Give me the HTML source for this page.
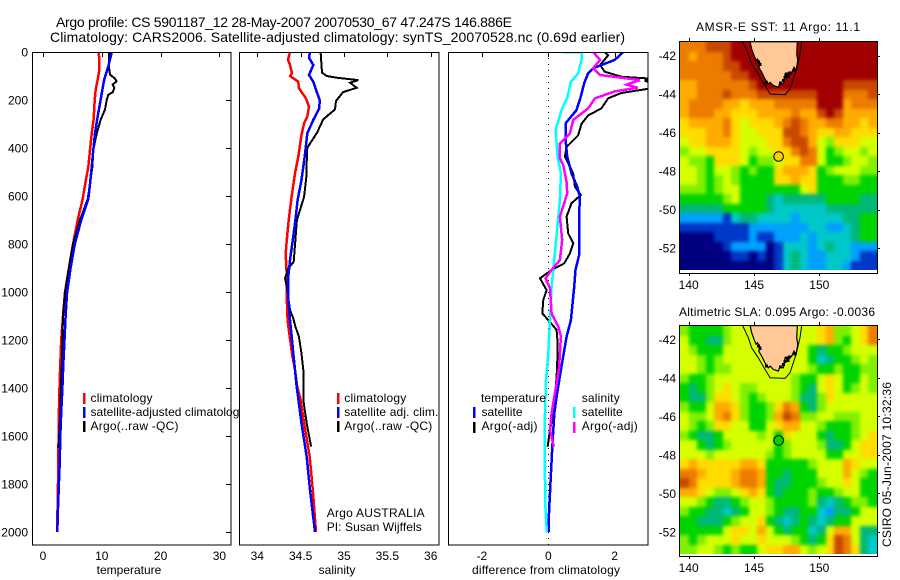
<!DOCTYPE html>
<html lang="en">
<head>
<meta charset="utf-8">
<title>Argo profile 5901187_12</title>
<style>
html,body{margin:0;padding:0;background:#fff;}
svg{display:block;}
text{font-family:"Liberation Sans",sans-serif;font-size:12px;fill:#000;}
</style>
</head>
<body>
<svg id="chart" xmlns="http://www.w3.org/2000/svg" width="900" height="580" viewBox="0 0 900 580">
<defs>
<clipPath id="clip-temp"><rect x="32" y="52" width="199" height="493"/></clipPath>
<clipPath id="clip-sal"><rect x="240" y="52" width="199" height="493"/></clipPath>
<clipPath id="clip-diff"><rect x="449" y="52" width="199" height="493"/></clipPath>
<clipPath id="clip-map-sst"><rect x="680" y="42" width="197" height="231"/></clipPath>
<clipPath id="clip-map-sla"><rect x="680" y="326" width="197" height="230"/></clipPath>
<clipPath id="clip-field-sst"><rect x="680" y="42" width="197" height="228"/></clipPath>
<clipPath id="clip-field-sla"><rect x="680" y="326" width="197" height="228"/></clipPath>
<filter id="field-smooth" filterUnits="userSpaceOnUse" x="640" y="0" width="260" height="580" color-interpolation-filters="sRGB"><feGaussianBlur stdDeviation="1.8"/></filter>
</defs>

<text x="56" y="27" font-size="14" style="font-size:14px" textLength="456" lengthAdjust="spacing">Argo profile: CS 5901187_12 28-May-2007 20070530_67 47.247S 146.886E</text>
<text x="50" y="42" style="font-size:14px" textLength="575" lengthAdjust="spacing">Climatology: CARS2006. Satellite-adjusted climatology: synTS_20070528.nc (0.69d earlier)</text>

<g id="panel-temp">
<rect x="32" y="52" width="199" height="493" fill="#fff"/>
<g id="marks-temp" clip-path="url(#clip-temp)"></g>
<rect x="83" y="393" width="2.5" height="11" fill="#f00"/>
<text x="90.5" y="402" textLength="62" lengthAdjust="spacing">climatology</text>
<rect x="83" y="407" width="2.5" height="11" fill="#00f"/>
<text x="90.5" y="416" textLength="155" lengthAdjust="spacing">satellite-adjusted climatology</text>
<rect x="83" y="421" width="2.5" height="11" fill="#000"/>
<text x="90.5" y="430" textLength="88" lengthAdjust="spacing">Argo(..raw -QC)</text>
<rect x="32.5" y="52.5" width="198.5" height="492.5" fill="none" stroke="#000" stroke-width="1" shape-rendering="crispEdges"/>
<g id="ticks-temp"></g>
<text x="129" y="574" text-anchor="middle">temperature</text>
</g>

<g id="panel-sal">
<rect x="239.5" y="52" width="199.5" height="493" fill="#fff"/>
<g id="marks-sal" clip-path="url(#clip-sal)"></g>
<rect x="337" y="393" width="2.5" height="11" fill="#f00"/>
<text x="344.3" y="402" textLength="62" lengthAdjust="spacing">climatology</text>
<rect x="337" y="407" width="2.5" height="11" fill="#00f"/>
<text x="344.3" y="416" textLength="94" lengthAdjust="spacing">satellite adj. clim.</text>
<rect x="337" y="421" width="2.5" height="11" fill="#000"/>
<text x="344.3" y="430" textLength="88" lengthAdjust="spacing">Argo(..raw -QC)</text>
<text x="326.7" y="517" textLength="98" lengthAdjust="spacing">Argo AUSTRALIA</text>
<text x="326.7" y="531" textLength="95" lengthAdjust="spacing">PI: Susan Wijffels</text>
<rect x="239.5" y="52.5" width="199.5" height="492.5" fill="none" stroke="#000" stroke-width="1" shape-rendering="crispEdges"/>
<g id="ticks-sal"></g>
<text x="337" y="574" text-anchor="middle">salinity</text>
</g>

<g id="panel-diff">
<rect x="448.5" y="52" width="199.5" height="493" fill="#fff"/>
<g id="marks-diff" clip-path="url(#clip-diff)"></g>
<text x="481" y="402" textLength="65" lengthAdjust="spacing">temperature</text>
<rect x="473" y="407" width="2.5" height="11" fill="#00f"/>
<text x="481.5" y="416" textLength="41" lengthAdjust="spacing">satellite</text>
<rect x="473" y="422" width="2.5" height="11" fill="#000"/>
<text x="481.5" y="430" textLength="56" lengthAdjust="spacing">Argo(-adj)</text>
<text x="581.7" y="402" textLength="38" lengthAdjust="spacing">salinity</text>
<rect x="573" y="407" width="2.5" height="11" fill="#0ff"/>
<text x="581.7" y="416" textLength="41" lengthAdjust="spacing">satellite</text>
<rect x="573" y="422" width="2.5" height="11" fill="#f0f"/>
<text x="581.7" y="430" textLength="56" lengthAdjust="spacing">Argo(-adj)</text>
<rect x="448.5" y="52.5" width="199.5" height="492.5" fill="none" stroke="#000" stroke-width="1" shape-rendering="crispEdges"/>
<g id="ticks-diff"></g>
<text x="546" y="574" text-anchor="middle" textLength="148" lengthAdjust="spacing">difference from climatology</text>
</g>

<g id="panel-map-sst">
<text x="696" y="31" textLength="164" lengthAdjust="spacing">AMSR-E SST: 11 Argo: 11.1</text>
<g clip-path="url(#clip-field-sst)"><g id="cells-sst" filter="url(#field-smooth)" shape-rendering="crispEdges"></g></g>
<g id="geo-sst" clip-path="url(#clip-map-sst)"></g>
<rect x="679.5" y="41.5" width="198" height="232" fill="none" stroke="#000" stroke-width="1" shape-rendering="crispEdges"/>
<g id="ticks-map-sst"></g>
</g>

<g id="panel-map-sla">
<text x="679" y="316" textLength="196" lengthAdjust="spacing">Altimetric SLA: 0.095 Argo: -0.0036</text>
<g clip-path="url(#clip-field-sla)"><g id="cells-sla" filter="url(#field-smooth)" shape-rendering="crispEdges"></g></g>
<g id="geo-sla" clip-path="url(#clip-map-sla)"></g>
<rect x="679.5" y="325.5" width="198" height="231" fill="none" stroke="#000" stroke-width="1" shape-rendering="crispEdges"/>
<g id="ticks-map-sla"></g>
</g>

<text transform="translate(891,547) rotate(-90)" textLength="165" lengthAdjust="spacing">CSIRO 05-Jun-2007 10:32:36</text>
</svg>

<script>
// ---------- axis tick labels ----------
const depthTicks = [0,200,400,600,800,1000,1200,1400,1600,1800,2000];
const tempTicks = [0,10,20,30];
const salTicks = [34,34.5,35,35.5,36];
const diffTicks = [-2,0,2];
const lonTicks = [140,145,150];
const latTicks = [-42,-44,-46,-48,-50,-52];

// ---------- temperature panel ----------
const tempClimDepth = [0,74,115,157,200,283,340,408,480,533,612,700,800,900,1000,1100,1200,1300,1400,1500,1600,1800,2000];
const tempClimValue = [9.5,9.6,9.3,8.96,8.8,8.6,8.28,8,7.7,7.3,6.75,5.9,5.1,4.4,3.75,3.4,3.1,2.95,2.8,2.7,2.65,2.55,2.4];
const tempSatDepth = [0,60,115,157,200,268,338,408,480,550,612,700,800,900,1000,1100,1200,1300,1400,1500,1600,1700,1800,1900,2000];
const tempSatValue = [11.7,11.1,10.4,10.1,9.8,9.3,8.84,8.55,8.28,8,7.7,6.5,5.4,4.7,4.1,3.85,3.65,3.45,3.3,3.1,2.95,2.85,2.7,2.55,2.44];
const tempArgoDepth = [0,60,94,111,122,136,150,168,178,200,240,283,340,408,480,550,612,700,800,900,1000,1100,1200,1300,1400,1500,1650];
const tempArgoValue = [11.2,11.2,11.4,12.24,12.5,11.85,12.13,11.85,11.1,10.83,10.54,9.8,9.13,8.55,8.4,8,7.6,6.3,5.1,4.4,3.75,3.4,3.3,3.2,3.05,2.95,2.65];

// ---------- salinity panel ----------
const salClimDepth = [0,33,54,89,100,124,151,193,228,269,297,346,436,506,603,700,783,839,936,1026,1117,1186,1256,1325,1394,1450,1547,1686,1825,2000];
const salClimValue = [34.377,34.354,34.377,34.40,34.38,34.473,34.48,34.56,34.596,34.577,34.54,34.51,34.473,34.435,34.396,34.362,34.34,34.328,34.34,34.34,34.35,34.374,34.40,34.435,34.46,34.5,34.54,34.604,34.64,34.677];
const salSatDepth = [0,24,54,96,124,158,200,235,283,339,436,533,617,700,783,867,936,1026,1117,1186,1256,1394,1547,1686,1825,2000];
const salSatValue = [34.608,34.596,34.646,34.596,34.646,34.677,34.72,34.715,34.646,34.577,34.547,34.51,34.465,34.44,34.41,34.377,34.358,34.358,34.377,34.397,34.415,34.454,34.51,34.57,34.608,34.665];
const salArgoDepth = [0,86,100,107,117,128,149,167,204,239,281,336,399,461,506,603,700,783,874,901,943,978,1075,1110,1144,1186,1256,1325,1450,1547,1644];
const salArgoValue = [34.73,34.746,34.8,34.916,35.165,35.07,35.146,34.99,34.908,34.896,34.76,34.69,34.577,34.57,34.57,34.54,34.457,34.44,34.42,34.358,34.32,34.34,34.377,34.415,34.44,34.48,34.51,34.53,34.53,34.57,34.62];

// ---------- difference panel ----------
const diffTempSatDepth = [0,33,68,89,130,186,242,297,367,436,506,561,603,686,839,908,978,1117,1186,1325,1436,1506,1645,1784,1922,2000];
const diffTempSatValue = [2.26,2.0,1.35,1.2,1.08,0.98,0.85,0.52,0.52,0.57,0.70,0.87,0.95,0.93,0.94,0.82,0.78,0.68,0.55,0.38,0.25,0.18,0.12,0.07,0.02,0.01];
const diffSalSatDepth = [0,2,33,89,124,186,242,325,436,506,617,686,839,978,1117,1256,1367,1506,1645,1784,1922,2000];
const diffSalSatValue = [0.45,1.0,1.0,0.9,0.68,0.58,0.40,0.22,0.28,0.38,0.35,0.30,0.20,0.10,0.05,0,-0.07,-0.10,-0.11,-0.10,-0.08,-0.04];
const diffTempArgoDepth = [0,14,54,82,103,112,120,131,149,171,193,235,264,299,347,396,436,506,561,596,630,686,756,797,839,881,908,943,992,1033,1089,1117,1158,1193,1256,1353,1436,1506,1575,1645];
const diffTempArgoValue = [1.69,1.8,1.56,1.7,2.2,3.2,2.9,3.2,3.2,2.2,1.8,1.6,1.2,1.0,0.9,0.55,0.5,0.75,0.8,0.98,0.7,0.55,0.6,0.75,0.65,0.48,0.1,-0.25,-0.05,-0.15,-0.18,0,0.25,0.27,0.28,0.25,0.2,0.15,0.05,-0.02];
const diffSalArgoDepth = [0,33,68,96,107,117,136,149,164,193,235,283,339,381,443,471,542,590,686,783,867,908,943,985,1089,1144,1186,1325,1436,1506,1575,1645];
const diffSalArgoValue = [1.35,1.56,1.35,1.56,2.2,2.76,2.36,2.69,2.0,1.41,1.2,0.75,0.65,0.35,0.35,0.45,0.55,0.57,0.35,0.42,0.35,0.10,-0.08,0.05,0.1,0.3,0.38,0.32,0.18,0.1,0.05,0.17];

// ---------- map fields: colour-scale steps 0 (navy) .. 12 (dark red) ----------
const sstGrid = [
[10,10,10,11,11,11,12,12,12,12,12,12,12,12,12,12,12,12,12,12,12,12,12],
[10,9,10,10,10,11,12,12,12,12,12,12,12,12,12,12,12,12,12,12,12,12,12],
[10,10,10,10,10,11,11,12,12,12,12,12,12,12,12,12,12,12,12,12,12,12,12],
[10,10,10,10,10,10,11,11,12,12,12,12,12,12,12,12,12,12,12,12,12,12,12],
[9,9,10,10,10,10,10,10,11,12,12,12,12,12,12,12,12,12,12,11,11,11,11],
[9,9,10,10,10,11,10,10,10,11,11,11,11,11,11,11,12,12,12,10,10,10,11],
[9,10,10,10,10,9,9,8,9,9,9,10,10,10,10,10,12,12,12,9,10,10,10],
[9,10,10,10,9,9,8,8,8,9,9,9,9,10,9,9,11,12,11,9,9,9,9],
[8,9,9,9,9,10,8,7,8,8,8,9,10,11,10,9,9,10,10,9,9,8,9],
[8,8,8,9,9,10,8,7,7,8,8,8,11,11,10,9,8,8,9,9,8,8,8],
[7,8,8,9,9,9,8,7,7,7,8,8,10,11,11,9,7,6,8,8,8,7,7],
[6,7,7,8,8,8,8,7,6,7,7,8,8,10,11,10,7,5,6,7,7,6,7],
[7,6,6,5,8,8,8,7,5,6,6,7,8,8,10,10,7,5,5,6,7,7,6],
[7,7,6,5,7,7,6,5,6,5,5,8,9,9,9,8,5,6,7,7,7,6,6],
[7,7,6,5,6,7,6,5,5,5,5,8,8,9,8,8,5,5,5,6,6,5,5],
[6,6,6,5,6,7,7,5,5,5,5,5,5,5,7,8,5,5,5,5,5,5,5],
[5,5,5,5,5,6,7,5,5,5,4,3,4,4,4,4,4,5,5,5,5,4,4],
[4,4,4,4,4,5,5,5,5,5,4,3,3,3,3,3,3,4,4,4,4,4,4],
[2,2,2,2,2,1,3,4,4,3,3,3,3,2,3,3,3,3,3,4,4,5,5],
[1,1,1,1,1,1,1,1,2,2,2,2,2,2,2,3,3,2,2,3,4,5,5],
[0,0,0,0,1,1,1,1,2,1,1,2,2,2,3,2,3,3,3,3,4,5,5],
[0,0,0,0,0,1,2,2,2,2,0,1,3,3,3,2,3,4,3,3,2,2,2],
[0,0,0,0,0,0,1,1,0,1,0,1,3,4,3,2,2,3,3,3,2,1,1],
[0,0,0,0,0,0,0,0,0,0,0,1,3,4,3,2,2,3,3,2,1,1,1]
];
const slaGrid = [
[6,5,5,5,5,6,7,7,7,7,7,7,7,7,7,7,8,9,6,6,7,8,10],
[7,5,5,4,4,6,7,7,7,7,7,7,7,7,7,7,8,9,6,5,7,8,10],
[7,6,5,5,5,7,7,7,7,7,7,7,7,7,7,5,4,5,5,6,7,7,7],
[7,7,6,5,6,7,7,7,7,7,7,7,7,7,7,5,3,4,5,5,6,7,6],
[7,7,6,5,6,6,7,7,7,7,7,7,7,7,7,6,5,5,6,5,5,6,6],
[6,5,5,6,7,7,7,7,7,7,7,7,7,6,5,5,7,8,7,5,5,7,6],
[5,4,5,6,7,8,7,6,6,7,7,7,7,6,5,4,7,8,7,5,6,7,6],
[5,4,4,6,8,8,7,6,5,6,7,7,7,6,4,4,6,8,7,7,7,7,7],
[6,5,5,7,9,9,8,6,5,5,6,8,10,9,5,4,6,7,7,7,7,7,7],
[7,6,6,7,9,10,8,6,5,5,6,9,11,10,6,6,7,7,6,6,6,7,7],
[7,6,5,6,8,8,7,7,5,5,7,8,9,9,7,7,6,5,5,5,6,7,7],
[6,5,4,4,5,7,7,7,7,6,7,5,8,7,7,7,5,4,5,5,6,7,8],
[7,7,5,4,5,6,7,7,7,7,7,5,6,7,7,7,6,4,4,5,7,8,8],
[7,7,7,6,7,7,7,7,7,7,6,5,6,7,7,7,7,5,5,7,7,8,8],
[8,9,8,8,8,8,8,9,9,8,5,5,5,5,5,6,7,7,7,9,8,7,7],
[10,10,9,8,8,8,9,10,10,9,5,5,4,5,5,5,7,7,7,9,7,6,5],
[11,10,8,8,8,8,9,10,10,9,5,4,4,5,5,5,6,7,7,8,7,5,5],
[9,9,8,7,6,6,7,8,9,8,5,4,5,5,5,6,5,5,6,7,7,5,5],
[7,7,6,5,4,4,5,6,7,7,6,5,5,5,5,6,4,3,4,5,6,6,5],
[6,5,5,4,4,3,4,5,7,7,6,5,4,4,5,5,3,2,4,4,5,7,7],
[5,5,4,4,4,5,6,7,7,8,5,4,3,4,5,4,3,4,5,5,7,7,7],
[5,5,5,5,5,7,8,8,7,9,7,5,4,5,5,3,4,7,9,9,7,4,4],
[6,5,6,7,7,7,8,7,7,8,7,7,7,6,5,4,5,8,11,10,7,4,3],
[6,6,7,7,6,5,6,5,5,7,8,8,9,9,7,6,7,8,11,10,8,4,3]
];

// ---------- geography (lon / lat) ----------
const coastLon = [144.70,144.82,145.00,145.16,145.26,145.51,145.36,145.59,145.84,146.10,146.23,146.48,146.87,146.99,147.25,147.38,147.63,147.89,148.06,148.22,148.35,148.27,148.32];
const coastLat = [-41.29,-41.65,-42.00,-42.26,-42.18,-42.44,-42.61,-42.87,-43.22,-43.48,-43.39,-43.56,-43.65,-43.39,-43.48,-42.96,-43.04,-42.87,-42.61,-42.78,-42.26,-41.92,-41.29];
const contourLon = [144.13,144.57,144.82,145.33,145.84,146.23,147.38,147.76,148.22,148.52,148.65];
const contourLat = [-41.29,-41.92,-42.44,-42.96,-43.56,-44.0,-44.03,-43.74,-42.78,-41.92,-41.29];
const islandLon = [145.33,145.46,147.50,147.71,147.25,147.04,145.97,148.14,147.38,147.60];
const islandLat = [-42.35,-42.47,-42.96,-42.92,-43.30,-43.44,-43.39,-42.75,-43.15,-43.10];
const argoLon = [146.886];
const argoLat = [-47.247];
const argoSstStep = [8.3];
const argoSlaStep = [5];

// ---------- axis functions ----------
const SVGNS = 'http://www.w3.org/2000/svg';
const yDepth = d => 52 + d * 0.24;
const xTemp = v => 43 + v * 5.88;
const xSal = v => 257.3 + (v - 34) * 86.7;
const xDiff = v => 548.3 + v * 33.2;
const xLon = v => 688.7 + (v - 140) * 13.06;
const ySst = v => 55.5 + (-42 - v) * 19.25;
const ySla = v => 339.3 + (-42 - v) * 19.27;

const palette = ['#000080','#0038c8','#00a0ff','#00c8c8','#00b878','#00d400','#80f000','#d4ff00','#ffdc00','#ffac00','#ec7c00','#c84800','#a00000'];
function colorOf(step){
  const s = Math.max(0, Math.min(12, step));
  const lo = Math.floor(s), hi = Math.min(12, lo + 1), t = s - lo;
  const c = h => [1,3,5].map(i => parseInt(h.substr(i,2),16));
  const a = c(palette[lo]), b = c(palette[hi]);
  return 'rgb(' + a.map((q,i) => Math.round(q + (b[i]-q)*t)).join(',') + ')';
}
function mk(tag, parent, attrs){
  const el = document.createElementNS(SVGNS, tag);
  for (const k in attrs) el.setAttribute(k, attrs[k]);
  parent.appendChild(el);
  return el;
}
function byId(id){ return document.getElementById(id); }

function drawProfile(group, depths, values, xScale, color, width, name){
  const pts = depths.map((d,i) => xScale(values[i]).toFixed(1) + ',' + yDepth(d).toFixed(1)).join(' ');
  const el = mk('polyline', group, {points: pts, fill: 'none', stroke: color, 'stroke-width': width, 'stroke-linejoin': 'miter', 'shape-rendering': 'crispEdges'});
  
  
}
function drawTopTicks(group, ticks, xScale, name){
  ticks.forEach(v => {
    const x = Math.round(xScale(v)) + 0.5;
    const tick = mk('line', group, {x1: x, x2: x, y1: 52, y2: 57, stroke: '#000', 'shape-rendering': 'crispEdges'});
    
    
    const label = mk('text', group, {x: xScale(v), y: 560, 'text-anchor': 'middle'});
    label.textContent = String(v);
    
    
  });
}
function drawMapAxes(group, scaleY, top, bottom, name){
  lonTicks.forEach(v => {
    const x = Math.round(xLon(v)) + 0.5;
    const t1 = mk('line', group, {x1: x, x2: x, y1: top - 3, y2: top, stroke: '#000', 'shape-rendering': 'crispEdges'});
    
    
    const t2 = mk('line', group, {x1: x, x2: x, y1: bottom, y2: bottom + 3, stroke: '#000', 'shape-rendering': 'crispEdges'});
    
    
    const label = mk('text', group, {x: xLon(v), y: bottom + 16, 'text-anchor': 'middle'});
    label.textContent = String(v);
    
    
  });
  latTicks.forEach(v => {
    const y = Math.round(scaleY(v)) + 0.5;
    const t = mk('line', group, {x1: 877, x2: 880, y1: y, y2: y, stroke: '#000', 'shape-rendering': 'crispEdges'});
    
    
    const label = mk('text', group, {x: 676, y: scaleY(v) + 4.5, 'text-anchor': 'end'});
    label.textContent = String(v);
    
    
  });
}
function drawCells(group, grid, left, top, cellW, cellH, name){
  const pad = 12; // outer cells run past the clip so the smoothing keeps full colour at the edge
  grid.forEach((row, r) => {
    row.forEach((v, c) => {
      let x0 = Math.round(left + c * cellW), x1 = Math.round(left + (c + 1) * cellW);
      let y0 = Math.round(top + r * cellH), y1 = Math.round(top + (r + 1) * cellH);
      if (c === 0) x0 -= pad;
      if (c === row.length - 1) x1 += pad;
      if (r === 0) y0 -= pad;
      if (r === grid.length - 1) y1 += pad;
      const cell = mk('rect', group, {x: x0, y: y0, width: x1 - x0, height: y1 - y0, fill: colorOf(v)});
      
      
    });
  });
}
function drawGeo(group, scaleY, markerStep, name){
  const landPts = coastLon.map((v,i) => xLon(v).toFixed(1) + ',' + scaleY(coastLat[i]).toFixed(1)).join(' ');
  const land = mk('polygon', group, {points: landPts, fill: '#ffc896', stroke: '#000', 'stroke-width': 1.2});
  
  
  islandLon.forEach((v,i) => {
    const isle = mk('rect', group, {x: xLon(v) - 1.5, y: scaleY(islandLat[i]) - 1.5, width: 3, height: 3, fill: '#000', 'shape-rendering': 'crispEdges'});
    
    
  });
  const contourPts = contourLon.map((v,i) => xLon(v).toFixed(1) + ',' + scaleY(contourLat[i]).toFixed(1)).join(' ');
  const contour = mk('polyline', group, {points: contourPts, fill: 'none', stroke: '#000', 'stroke-width': 1});
  
  
  const marker = mk('circle', group, {cx: xLon(argoLon[0]), cy: scaleY(argoLat[0]), r: 4.8, fill: colorOf(markerStep), stroke: '#000', 'stroke-width': 1});
  
  
}

// ---------- temperature panel ----------
drawProfile(byId('marks-temp'), tempClimDepth, tempClimValue, xTemp, '#f00', 2.5, 'temperature-climatology-line');
drawProfile(byId('marks-temp'), tempArgoDepth, tempArgoValue, xTemp, '#000', 2, 'temperature-argo-line');
drawProfile(byId('marks-temp'), tempSatDepth, tempSatValue, xTemp, '#00f', 2.5, 'temperature-satellite-line');
drawTopTicks(byId('ticks-temp'), tempTicks, xTemp, 'temperature');
depthTicks.forEach(d => {
  const y = Math.round(yDepth(d)) + 0.5;
  const tick = mk('line', byId('ticks-temp'), {x1: 226, x2: 231, y1: y, y2: y, stroke: '#000', 'shape-rendering': 'crispEdges'});
  
  
  const label = mk('text', byId('ticks-temp'), {x: 28, y: yDepth(d) + 4.5, 'text-anchor': 'end'});
  label.textContent = String(d);
  
  
});

// ---------- salinity panel ----------
drawProfile(byId('marks-sal'), salClimDepth, salClimValue, xSal, '#f00', 2.5, 'salinity-climatology-line');
drawProfile(byId('marks-sal'), salArgoDepth, salArgoValue, xSal, '#000', 2, 'salinity-argo-line');
drawProfile(byId('marks-sal'), salSatDepth, salSatValue, xSal, '#00f', 2.5, 'salinity-satellite-line');
drawTopTicks(byId('ticks-sal'), salTicks, xSal, 'salinity');

// ---------- difference panel ----------
const zeroLine = mk('line', byId('marks-diff'), {x1: xDiff(0), x2: xDiff(0), y1: 52, y2: 545, stroke: '#000', 'stroke-width': 1, 'stroke-dasharray': '1 5', 'shape-rendering': 'crispEdges'});


drawProfile(byId('marks-diff'), diffTempArgoDepth, diffTempArgoValue, xDiff, '#000', 2, 'difference-temperature-argo-line');
drawProfile(byId('marks-diff'), diffTempSatDepth, diffTempSatValue, xDiff, '#00f', 2.5, 'difference-temperature-satellite-line');
drawProfile(byId('marks-diff'), diffSalSatDepth, diffSalSatValue, xDiff, '#0ff', 2.5, 'difference-salinity-satellite-line');
drawProfile(byId('marks-diff'), diffSalArgoDepth, diffSalArgoValue, xDiff, '#f0f', 2.5, 'difference-salinity-argo-line');
drawTopTicks(byId('ticks-diff'), diffTicks, xDiff, 'difference');

// ---------- maps ----------
drawCells(byId('cells-sst'), sstGrid, 680, 42, 197 / 23, 228 / 24, 'sst-heatmap-cell');
drawGeo(byId('geo-sst'), ySst, argoSstStep[0], 'sst-map');
drawMapAxes(byId('ticks-map-sst'), ySst, 41, 273, 'sst-map');
drawCells(byId('cells-sla'), slaGrid, 680, 326, 197 / 23, 228 / 24, 'sla-heatmap-cell');
drawGeo(byId('geo-sla'), ySla, argoSlaStep[0], 'sla-map');
drawMapAxes(byId('ticks-map-sla'), ySla, 325, 556, 'sla-map');
</script>
</body>
</html>
